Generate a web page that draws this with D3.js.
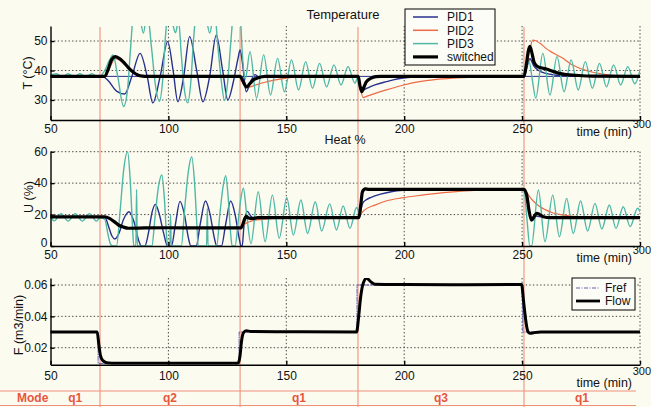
<!DOCTYPE html>
<html>
<head>
<meta charset="utf-8">
<script src="https://cdn.jsdelivr.net/npm/d3@7"></script>
<style>
  html, body { margin: 0; padding: 0; background: #fcfbf0; }
  svg { display: block; font-family: "Liberation Sans", Arial, Helvetica, sans-serif; }
</style>
</head>
<body>
<svg id="chart" width="651" height="407"></svg>
<script>
// ---------------- data ----------------
// time axis (min)
const xTicks = [50, 100, 150, 200, 250, 300];
// operating modes and the times where the mode changes
const modeNames = ["q1", "q2", "q1", "q3", "q1"];
const modeBounds = [50, 71, 130.4, 180.4, 250.8, 300];

// temperature panel
const tempTicks = [30, 40, 50];
const tempSetpoint = 38;
const pid1Temp = [[50,38],[72,38],[74.5,36.5],[78,33],[81.4,32],[84.5,38],[88,45.8],[91,38],[93.4,29],[96.5,38],[99.7,49.8],[102,40],[104,29.4],[106.5,38],[109,51.5],[112,40],[114.6,29.4],[117.5,38],[120.3,52],[123,40],[125.2,30],[127.5,36],[129.5,44],[130.4,47],[131.5,42],[133,32.8],[135,36.5],[136.8,38.6],[138.5,37.6],[141,38.1],[144,38],[180.5,38],[181.2,35],[182.4,33.4],[184,33.9],[187.6,35.1],[192.4,36.2],[197,37.1],[201.5,37.6],[206,37.9],[212,38],[250.8,38],[252,41],[253.3,44],[255,41.5],[257,40],[260,39],[265,38.4],[270,38.1],[300,38]];
const pid2Temp = [[50,38],[73,38],[75,40.8],[77.5,44],[81,42.5],[85,39.5],[89,38.2],[91,38],[130.5,38],[131.5,36.2],[133.7,34.3],[136,34.8],[139,35.6],[142,36.2],[146,36.9],[150,37.4],[155,37.8],[160,38],[180.5,38],[181.3,34.5],[182.6,30.8],[184,31.2],[188,32.3],[192.4,33.4],[199.4,35],[206.5,36.2],[213,36.9],[220.6,37.4],[232,37.8],[240,38],[250.8,38],[252,42],[253.3,47],[254.5,50.3],[256,50],[258,49],[260,47.6],[263,46],[267,44.3],[271,42],[275,40.6],[280,39.4],[285,38.7],[290,38.3],[300,38.1]];
const pid3Temp = [[50,38.4],[52.5,38.9],[55,37.8],[57.5,38.9],[60,37.8],[62.5,38.9],[65,37.8],[67.5,38.9],[70,37.8],[71,38],[73,40],[75,43.5],[76.5,45.3],[78.5,38],[81,27.8],[82.6,33],[84,48],[85.5,62],[87.5,60],[89.4,52.7],[91,60],[92.8,48],[94.5,35],[96.2,29.5],[97.5,36],[98.8,52],[100.2,62],[101.8,56],[103,52.8],[104.3,57],[105.5,45],[106.7,34],[108.2,29],[109.5,36],[110.8,52],[112.3,62],[115.5,60],[117.5,52.7],[119.5,60],[121,48],[122.5,36],[123.8,29.8],[125,35],[126.5,50],[128,62],[130.3,60],[131.4,45],[132.6,37],[134.6,46.4],[137.4,30.6],[140.4,45.3],[143.3,31.7],[146.3,44.1],[149.2,32.8],[152.2,43.6],[155.2,33.4],[158.2,43],[161.1,34],[164.1,42.4],[167.1,34.5],[170.2,41.9],[173.2,35.1],[176.2,41.3],[179.1,35.7],[180.5,38],[181.2,35.2],[182,33],[183,34.5],[184,36.2],[186,37.4],[188,37.9],[190,38],[250.8,38],[252,41.5],[253,43],[254.3,37],[255.8,30.6],[258.8,45.8],[261.8,31.7],[264.8,44.7],[267.8,32.8],[270.8,43.6],[273.8,33.4],[276.8,43],[279.8,34],[282.8,42.4],[285.8,34.5],[288.8,41.9],[291.8,35.1],[294.8,41.3],[297.8,35.5],[300,40]];
const switchedTemp = [[50,38],[73,38],[74.5,40.5],[76,43.8],[77.5,44.7],[79,44.2],[81,42.8],[83,41],[85,39.5],[87,38.5],[89,38.1],[91,38],[130.5,38],[131.5,36.5],[133.2,34.4],[134.5,35.5],[136,36.8],[138,37.5],[141,38],[180.5,38],[181.2,35],[182,32.8],[183,34.5],[184,36.2],[186,37.4],[188,37.9],[190,38],[250.8,38],[251.8,42],[252.6,46.5],[253.3,48.2],[254,46.5],[255,43],[256.2,41.5],[258,40.9],[260,40.6],[262,40],[265,39.2],[268,38.7],[274,38.3],[280,38.1],[300,38]];

// heat panel (%)
const heatTicks = [0, 20, 40, 60];
const pid1Heat = [[50,18.5],[73,18.5],[74.5,13],[76,6.5],[77.3,4.5],[79,8],[81,17],[83.3,21.8],[85.5,15],[87.5,3],[88.5,0],[90,0],[91.5,8],[93,21],[94.5,26.5],[96,21],[98,8],[99.6,0],[101.3,0],[103,14],[104.9,28.4],[106.8,20],[108.5,5],[109.5,0],[111.8,0],[113.5,14],[115.7,28.6],[117.7,20],[119.5,5],[120.5,0],[122.5,0],[124.3,14],[126.4,28.6],[128.3,20],[130,5],[130.8,0],[131.3,0],[132,12],[133.5,22],[135,19],[136.5,17.5],[138.5,18.2],[141,18],[180.8,18],[181.5,22],[182.3,27],[184,29.5],[186,31],[190,33],[195,34.7],[200,35.5],[208,36],[250.8,36],[252,30],[253.3,20],[254.5,16.3],[256,19],[258,18.5],[262,18],[300,18]];
const pid2Heat = [[50,18.5],[73,18.5],[75,17.5],[77,15.3],[79,13],[81,11.9],[83,11.3],[90,11.4],[130.8,11.4],[132,13.5],[134,15.3],[136,16.2],[140,16.9],[145,17.5],[150,17.9],[158,18],[180.8,18],[181.5,20],[183,22.7],[187.6,26],[192.6,28.8],[199,30.6],[206.7,32.2],[213,33.3],[220.8,34.4],[228,35.2],[235,35.8],[242,36],[250.8,36],[251.8,34.5],[253.4,31],[255.5,27.5],[257.6,25],[260,23],[263.2,21],[267,19.8],[270.3,19.1],[275,18.6],[282,18.2],[290,18],[300,18]];
const pid3Heat = [[50,19],[51.5,16],[54.5,20.5],[57.5,15.8],[60.5,20.5],[63.5,15.8],[66.5,20.5],[69.5,15.8],[71,18],[73,17],[74.3,8],[75.5,1],[76.5,0],[78,0],[79.5,22],[81,48],[82.7,60],[83.8,42],[84.8,12],[85.3,0],[86.2,0],[86.5,36],[86.8,0],[93,0],[94.3,18],[95.8,38],[97.2,45.2],[98.3,30],[99.3,5],[99.7,0],[100.6,0],[100.9,20],[101.2,0],[105.5,0],[106.8,22],[108.5,48],[109.9,56.8],[111.1,40],[112.2,10],[112.6,0],[116.2,0],[116.5,24],[116.8,0],[120.5,0],[121.8,20],[123.2,38],[124.3,44.7],[125.4,30],[126.5,6],[127,0],[128.3,0],[129.5,14],[130.7,30],[131.8,36.7],[133.2,20],[135,1.5],[138.1,34.5],[141,2.8],[144.1,32.4],[147,4.9],[150.2,30.7],[153,7],[156.2,29.3],[159,8],[162.3,28.2],[165,9.5],[168.4,26.8],[171.3,10.2],[174.1,25.5],[177,11.2],[179.8,24.5],[180.8,22],[181.8,30],[182.5,35.5],[183.5,36.3],[186,36],[250.8,36],[252,18],[253.3,0],[254,0],[256.9,35.6],[259.7,2.8],[263,32.4],[265.8,5.9],[268.9,30.3],[271.7,8],[274.8,28.6],[277.8,9.5],[280.9,27.1],[283.8,10.8],[287,26.1],[289.8,11.2],[292.9,25],[295.8,12.3],[299,24],[300,22]];
const switchedHeat = [[50,18.5],[73,18.5],[75,17.6],[77,15.5],[79,13.2],[81,12],[83,11.3],[90,11.5],[100,11.6],[130.8,11.5],[131.6,14],[132.4,17.5],[133,18.8],[134,17.8],[135.5,17.5],[138,18],[180.8,18],[181.5,25],[182.3,34.5],[183.5,36.3],[185,36],[250.8,36],[252,32],[253,22],[254,16.5],[255,18.5],[256.2,20.8],[257.5,20],[259,18.6],[262,18],[300,18]];

// flow panel (m3/min); each reference value holds until the next time
const flowTicks = [0.02, 0.04, 0.06];
const flowRef = [[50,0.03],[70.2,0.01],[130,0.03],[180,0.06],[250.3,0.03],[300,0.03]];
const flow = [[50,0.030],[69.8,0.030],[70.5,0.022],[71.2,0.015],[72.2,0.0118],[73.8,0.0104],[76,0.0101],[100,0.0100],[129.5,0.0100],[130.3,0.014],[131,0.024],[131.8,0.0295],[133,0.0308],[135,0.0303],[150,0.0302],[179.8,0.0300],[180.7,0.040],[181.5,0.052],[182.7,0.0615],[184.1,0.0643],[185.5,0.0625],[187.6,0.0605],[200,0.0603],[220,0.0602],[249.8,0.0603],[250.6,0.050],[251.5,0.038],[252.4,0.0305],[253.3,0.0292],[255,0.0296],[258,0.0300],[300,0.0300]];

// ---------------- styles ----------------
const colPID1 = "#27318c";
const colPID2 = "#ec6a45";
const colPID3 = "#4fb8a6";
const colRef = "#6a5aa8";
const colMode = "#f0907c";
const colModeText = "#e8553f";

// ---------------- drawing ----------------
const svg = d3.select("#chart");
const x = d3.scaleLinear().domain([50, 300]).range([50.5, 640]);

const panels = [
  { id: "temp", top: 26, bottom: 120, domain: [23.2, 55.1], ticks: tempTicks, fmt: d3.format("d"), labelPad: 4, timeBase: 135.5 },
  { id: "heat", top: 151.7, bottom: 246, domain: [0, 60], ticks: heatTicks, fmt: d3.format("d"), labelPad: 4, timeBase: 261.5 },
  { id: "flow", top: 278, bottom: 364.7, domain: [0.00915, 0.06447], ticks: flowTicks, fmt: d3.format(".2f"), labelPad: 7, timeBase: 387 }
];
panels.forEach(p => { p.y = d3.scaleLinear().domain(p.domain).range([p.bottom, p.top]); });

const defs = svg.append("defs");
panels.forEach(p => {
  defs.append("clipPath").attr("id", "clip-" + p.id)
    .append("rect").attr("x", x.range()[0]).attr("y", p.top)
    .attr("width", x.range()[1] - x.range()[0]).attr("height", p.bottom - p.top);
});

// grid
panels.forEach(p => {
  const g = svg.append("g").attr("stroke", "#333").attr("stroke-width", 0.9)
    .attr("stroke-dasharray", "1.4,2.2").attr("fill", "none");
  p.ticks.filter(v => p.y(v) < p.bottom - 1).forEach(v => {
    g.append("line").attr("x1", x(50)).attr("x2", x(300)).attr("y1", p.y(v)).attr("y2", p.y(v));
  });
  xTicks.filter(v => v > 50).forEach(v => {
    g.append("line").attr("x1", x(v)).attr("x2", x(v)).attr("y1", p.top).attr("y2", p.bottom);
  });
});

// mode boundaries and strip
const modeG = svg.append("g").attr("stroke", colMode).attr("stroke-width", 1.1);
modeBounds.slice(1, -1).forEach(t => {
  modeG.append("line").attr("x1", x(t)).attr("x2", x(t)).attr("y1", 27).attr("y2", 407);
});
modeG.append("line").attr("x1", 0).attr("x2", 636).attr("y1", 391).attr("y2", 391);
modeG.append("line").attr("x1", 0).attr("x2", 636).attr("y1", 405.5).attr("y2", 405.5);
svg.append("text").attr("x", 17).attr("y", 402).attr("font-size", 12).attr("font-weight", "bold")
  .attr("fill", colModeText).text("Mode");
modeNames.forEach((m, i) => {
  svg.append("text").attr("x", x((modeBounds[i] + modeBounds[i + 1]) / 2)).attr("y", 401.5)
    .attr("text-anchor", "middle").attr("font-size", 12).attr("font-weight", "bold")
    .attr("fill", colModeText).text(m);
});

// series
function drawLine(p, data, color, width, curve, dash) {
  const line = d3.line().x(d => x(d[0])).y(d => p.y(d[1])).curve(curve || d3.curveMonotoneX);
  const path = svg.append("path").datum(data)
    .attr("clip-path", "url(#clip-" + p.id + ")")
    .attr("d", line).attr("fill", "none").attr("stroke", color)
    .attr("stroke-width", width).attr("stroke-linejoin", "round").attr("stroke-linecap", "round");
  if (dash) path.attr("stroke-dasharray", dash);
  return path;
}
const [pT, pU, pF] = panels;
drawLine(pT, [[50, tempSetpoint], [300, tempSetpoint]], colPID1, 1, d3.curveLinear);
drawLine(pT, pid1Temp, colPID1, 1.4);
drawLine(pT, pid2Temp, colPID2, 1.2);
drawLine(pT, pid3Temp, colPID3, 1.4);
drawLine(pT, switchedTemp, "#000", 3.2);

drawLine(pU, pid1Heat, colPID1, 1.4);
drawLine(pU, pid2Heat, colPID2, 1.2);
drawLine(pU, pid3Heat, colPID3, 1.4);
drawLine(pU, switchedHeat, "#000", 3.2);

drawLine(pF, flowRef, colRef, 1, d3.curveStepAfter, "4,1.5,1,1.5");
drawLine(pF, flow, "#000", 3);

// axes
panels.forEach(p => {
  const ax = svg.append("g").attr("transform", `translate(0,${p.bottom})`)
    .call(d3.axisBottom(x).tickValues(xTicks).tickSizeInner(-4).tickSizeOuter(0).tickPadding(p.labelPad).tickFormat(d3.format("d")));
  const ay = svg.append("g").attr("transform", `translate(${x(50)},0)`)
    .call(d3.axisLeft(p.y).tickValues(p.ticks).tickSizeInner(-4).tickSizeOuter(0).tickPadding(3).tickFormat(p.fmt));
  [ax, ay].forEach(a => {
    a.select(".domain").attr("stroke", "#000").attr("stroke-width", 1.4);
    a.selectAll(".tick line").attr("stroke", "#000").attr("stroke-width", 1.4);
    a.selectAll(".tick text").attr("fill", "#111").attr("font-size", 12)
      .attr("font-family", "\"Liberation Sans\", Arial, sans-serif");
  });
  // last time tick sits raised just after the axis title
  ax.selectAll(".tick text").filter(d => d === 300)
    .attr("text-anchor", "end").attr("x", 10.5).attr("y", p.labelPad - 4).attr("font-size", 11);
  // zero of the heat axis sits slightly above the time labels
  ay.selectAll(".tick text").filter(d => d === 0).attr("y", -3);
  svg.append("text").attr("x", 632).attr("y", p.timeBase).attr("text-anchor", "end")
    .attr("font-size", 12.5).attr("fill", "#111").text("time (min)");
});

// axis labels and titles
const yLabels = [["T (°C)", 32, 73], ["U (%)", 33, 197], ["F (m3/min)", 23, 325]];
yLabels.forEach(([t, lx, ly]) => {
  svg.append("text").attr("transform", `translate(${lx},${ly}) rotate(-90)`)
    .attr("text-anchor", "middle").attr("font-size", 12.5).attr("fill", "#111").text(t);
});
svg.append("text").attr("x", 343).attr("y", 18.5).attr("text-anchor", "middle")
  .attr("font-size", 13).attr("fill", "#111").text("Temperature");
svg.append("text").attr("x", 345).attr("y", 143.5).attr("text-anchor", "middle")
  .attr("font-size", 12.5).attr("fill", "#111").text("Heat %");

// legends
function legend(x0, y0, w, h, items, fs) {
  const g = svg.append("g");
  g.append("rect").attr("x", x0).attr("y", y0).attr("width", w).attr("height", h)
    .attr("fill", "#fdfdf7").attr("stroke", "#000").attr("stroke-width", 1);
  items.forEach(it => {
    const l = g.append("line").attr("x1", it.lx0).attr("x2", it.lx1).attr("y1", it.y).attr("y2", it.y)
      .attr("stroke", it.color).attr("stroke-width", it.width);
    if (it.dash) l.attr("stroke-dasharray", it.dash);
    g.append("text").attr("x", it.tx).attr("y", it.y + fs * 0.36).attr("font-size", fs)
      .attr("fill", "#111").text(it.label);
  });
}
const seriesNames = ["PID1", "PID2", "PID3", "switched"];
const seriesColors = [colPID1, colPID2, colPID3, "#000"];
legend(405, 9, 90, 56, seriesNames.map((n, i) => ({
  label: n, color: seriesColors[i], width: i === 3 ? 3.2 : 1.5,
  lx0: 413, lx1: 438, tx: 447, y: 17 + i * 13.3
})), 12);
const flowNames = ["Fref", "Flow"];
legend(572, 278, 63, 32, [
  { label: flowNames[0], color: colRef, width: 1, dash: "4,1.5,1,1.5", lx0: 576, lx1: 600, tx: 605, y: 288 },
  { label: flowNames[1], color: "#000", width: 2.8, lx0: 576, lx1: 600, tx: 605, y: 301 }
], 12);
</script>
</body>
</html>
